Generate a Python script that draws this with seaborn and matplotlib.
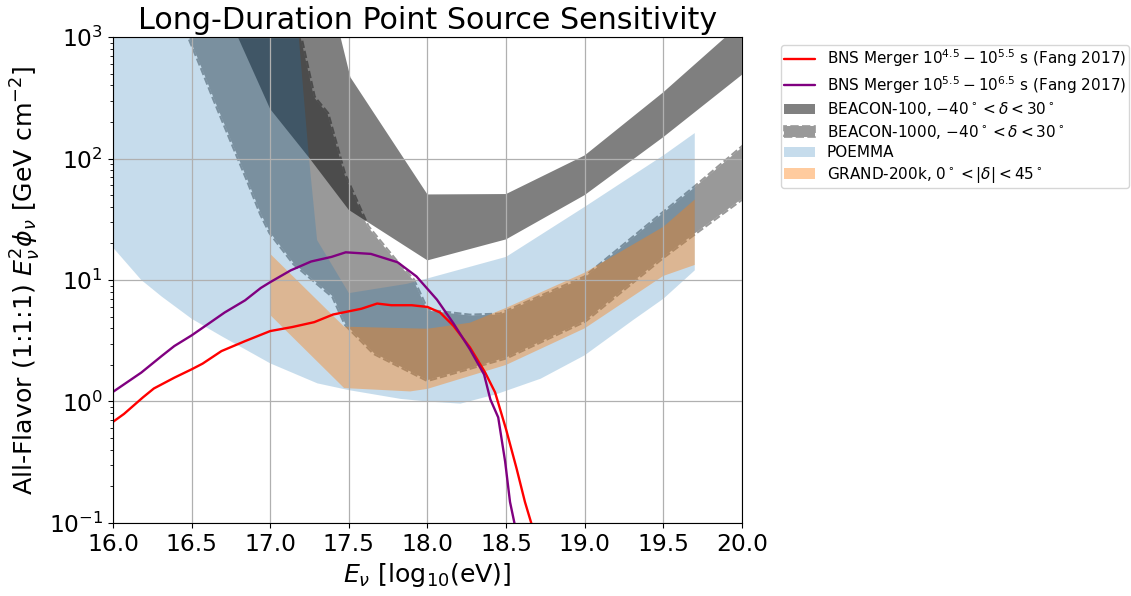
import numpy as np
import matplotlib
matplotlib.use("Agg")
import matplotlib.pyplot as plt
import seaborn as sns
from matplotlib.path import Path
from matplotlib.patches import Patch

# BNS merger fluences (Fang 2017), log10(E/eV) vs E^2 phi [GeV cm^-2]
red_x = [16.0, 16.07, 16.19, 16.26, 16.39, 16.5, 16.57, 16.69, 16.84, 17.0, 17.14, 17.28, 17.40,
         17.58, 17.68, 17.77, 17.9, 18.0, 18.08, 18.165, 18.27, 18.366, 18.43, 18.5, 18.567,
         18.62, 18.66, 18.7]
red_y = [0.68, 0.79, 1.08, 1.28, 1.57, 1.84, 2.05, 2.6, 3.14, 3.8, 4.1, 4.5, 5.2,
         5.8, 6.4, 6.2, 6.2, 6.0, 5.4, 4.2, 2.79, 1.74, 1.19, 0.59, 0.28,
         0.149, 0.1, 0.065]

purple_x = [16.0, 16.18, 16.31, 16.39, 16.5, 16.6, 16.71, 16.84, 16.94, 17.0, 17.13, 17.26, 17.39,
            17.48, 17.64, 17.81, 17.93, 18.06, 18.165, 18.27, 18.36, 18.40, 18.45, 18.494,
            18.525, 18.553, 18.58]
purple_y = [1.2, 1.73, 2.37, 2.86, 3.5, 4.3, 5.4, 6.8, 8.6, 9.6, 12.0, 14.2, 15.5,
            16.9, 16.4, 14.0, 10.7, 6.9, 4.4, 2.69, 1.67, 1.04, 0.74, 0.32,
            0.149, 0.1, 0.07]

# BEACON-100 band
b100_lo_x = [16.7, 16.794, 17.0, 17.246, 17.5, 18.0, 18.5, 19.0, 19.5, 20.05]
b100_lo_y = [2000, 1000, 255, 102, 37.7, 14.5, 21.6, 50, 150, 550]
b100_hi_x = [16.7, 17.40, 17.447, 17.51, 18.0, 18.5, 19.0, 19.5, 20.05]
b100_hi_y = [3000, 3000, 1000, 466, 50.6, 51, 106, 351, 1500]

# BEACON-1000 band
b1000_lo_x = [16.40, 16.483, 16.563, 16.647, 16.752, 16.857, 16.941, 17.0, 17.15, 17.40, 17.48,
              17.66, 18.0, 18.5, 19.0, 19.5, 19.7, 20.05]
b1000_lo_y = [2000, 1000, 561, 299, 140, 66, 35, 24.5, 13.7, 7.3, 4.3,
              2.5, 1.5, 2.3, 4.6, 15.5, 24.2, 52]
b1000_hi_x = [16.40, 17.10, 17.193, 17.278, 17.364, 17.47, 17.62, 17.81, 17.91, 18.0, 18.27,
              18.46, 19.0, 19.5, 19.7, 20.05]
b1000_hi_y = [3000, 3000, 1000, 320, 234, 75, 27.5, 13.8, 10.0, 5.6, 5.1,
              5.2, 10.5, 35.7, 58, 140]

# POEMMA band
poemma_lo_x = [16.0, 16.18, 16.31, 16.5, 16.69, 17.0, 17.3, 17.5, 17.83, 18.0, 18.21, 18.44,
               18.72, 19.0, 19.31, 19.5, 19.7]
poemma_lo_y = [18.5, 10, 7.3, 4.8, 3.45, 2.06, 1.41, 1.24, 1.05, 1.0, 0.96, 1.15,
               1.54, 2.4, 4.7, 7.0, 12.0]
poemma_hi_x = [16.0, 17.17, 17.246, 17.298, 17.5, 17.87, 18.0, 18.5, 19.0, 19.5, 19.7]
poemma_hi_y = [1500, 1500, 102, 21.3, 7.8, 9.3, 10.3, 15.5, 40, 106, 162]

# GRAND-200k band
grand_lo_x = [17.0, 17.47, 17.89, 18.0, 18.5, 19.0, 19.5, 19.7]
grand_lo_y = [5.15, 1.29, 1.21, 1.27, 2.0, 4.0, 10.8, 13.3]
grand_hi_x = [17.0, 17.47, 18.0, 18.27, 18.5, 19.0, 19.5, 19.7]
grand_hi_y = [16.4, 4.13, 3.97, 4.45, 5.9, 11.5, 27.4, 46]

x_ticks = [16.0, 16.5, 17.0, 17.5, 18.0, 18.5, 19.0, 19.5, 20.0]

labels = [r'BNS Merger $10^{4.5}-10^{5.5}$ s (Fang 2017)',
          r'BNS Merger $10^{5.5}-10^{6.5}$ s (Fang 2017)',
          r'BEACON-100, $-40^\circ < \delta < 30^\circ$',
          r'BEACON-1000, $-40^\circ < \delta < 30^\circ$',
          'POEMMA',
          r'GRAND-200k, $0^\circ < |\delta| < 45^\circ$']


def band(lo_x, lo_y, hi_x, hi_y):
    xs = np.r_[lo_x, hi_x[::-1]]
    ys = np.r_[lo_y, hi_y[::-1]]
    return xs, ys


def outside_of(xs, ys):
    # big box with the band polygon cut out (opposite winding)
    lx = np.asarray(xs, float)
    ly = np.log10(ys)
    area = 0.5 * np.sum(lx * np.roll(ly, -1) - np.roll(lx, -1) * ly)
    poly = list(zip(xs, ys))
    if area > 0:
        poly = poly[::-1]
    box = [(10, 1e-6), (30, 1e-6), (30, 1e8), (10, 1e8), (10, 1e-6)]
    verts = box + poly + [poly[0]]
    codes = ([Path.MOVETO] + [Path.LINETO] * 3 + [Path.CLOSEPOLY] +
             [Path.MOVETO] + [Path.LINETO] * (len(poly) - 1) + [Path.CLOSEPOLY])
    return Path(verts, codes)


sns.set_style("ticks")
plt.rcParams['font.family'] = ['DejaVu Sans']
plt.rcParams['mathtext.fontset'] = 'dejavusans'
for k in ['text.color', 'axes.labelcolor', 'xtick.color', 'ytick.color', 'axes.edgecolor']:
    plt.rcParams[k] = 'black'

fig = plt.figure(figsize=(11.31, 5.96), dpi=100)
ax = fig.add_axes([0.0999, 0.1225, 0.5561, 0.8154])
ax.set_yscale('log')

xs, ys = band(b100_lo_x, b100_lo_y, b100_hi_x, b100_hi_y)
ax.fill(xs, ys, color='k', alpha=0.5, lw=0)

xs, ys = band(b1000_lo_x, b1000_lo_y, b1000_hi_x, b1000_hi_y)
ax.fill(xs, ys, color='k', alpha=0.4, lw=0)
edge, = ax.plot(np.r_[xs, xs[0]], np.r_[ys, ys[0]], color='k', alpha=0.4, lw=2.8,
                linestyle=(0, (1.9, 0.75)), dash_capstyle='butt', zorder=1)
edge.set_clip_path(outside_of(xs, ys), ax.transData)

xs, ys = band(poemma_lo_x, poemma_lo_y, poemma_hi_x, poemma_hi_y)
ax.fill(xs, ys, color='C0', alpha=0.25, lw=0)

xs, ys = band(grand_lo_x, grand_lo_y, grand_hi_x, grand_hi_y)
ax.fill(xs, ys, color='C1', alpha=0.4, lw=0)

sns.lineplot(x=red_x, y=red_y, color='red', lw=1.7, sort=False, ax=ax, legend=False)
red_line = ax.lines[-1]
sns.lineplot(x=purple_x, y=purple_y, color='purple', lw=1.7, sort=False, ax=ax, legend=False)
purple_line = ax.lines[-1]

ax.set_xlim(16, 20)
ax.set_ylim(1e-1, 1e3)
ax.set_xticks(x_ticks)
ax.set_xticklabels([f'{t:.1f}' for t in x_ticks])
ax.tick_params(axis='both', which='major', labelsize=16.8)
ax.set_axisbelow('line')
ax.grid(True, which='major', color='#b0b0b0', linewidth=0.9)

ax.set_title('Long-Duration Point Source Sensitivity', fontsize=21.7)
ax.set_xlabel(r'$E_\nu$ [log$_{10}$(eV)]', fontsize=18.2)
ax.set_ylabel(r'All-Flavor (1:1:1) $E_\nu^2\phi_\nu$ [GeV cm$^{-2}$]', fontsize=18.2)

handles = [red_line, purple_line,
           Patch(facecolor='#808080', edgecolor='none'),
           Patch(facecolor='#999999', edgecolor='#999999', lw=1.2, linestyle=(0, (5, 2))),
           Patch(facecolor='C0', alpha=0.25, edgecolor='none'),
           Patch(facecolor='C1', alpha=0.4, edgecolor='none')]
ax.legend(handles, labels, loc='upper left', bbox_to_anchor=(1.05, 1.0), fontsize=11,
          frameon=True, labelspacing=0.3, borderpad=0.2)

fig.savefig('out.png', dpi=100)
plt.close(fig)
